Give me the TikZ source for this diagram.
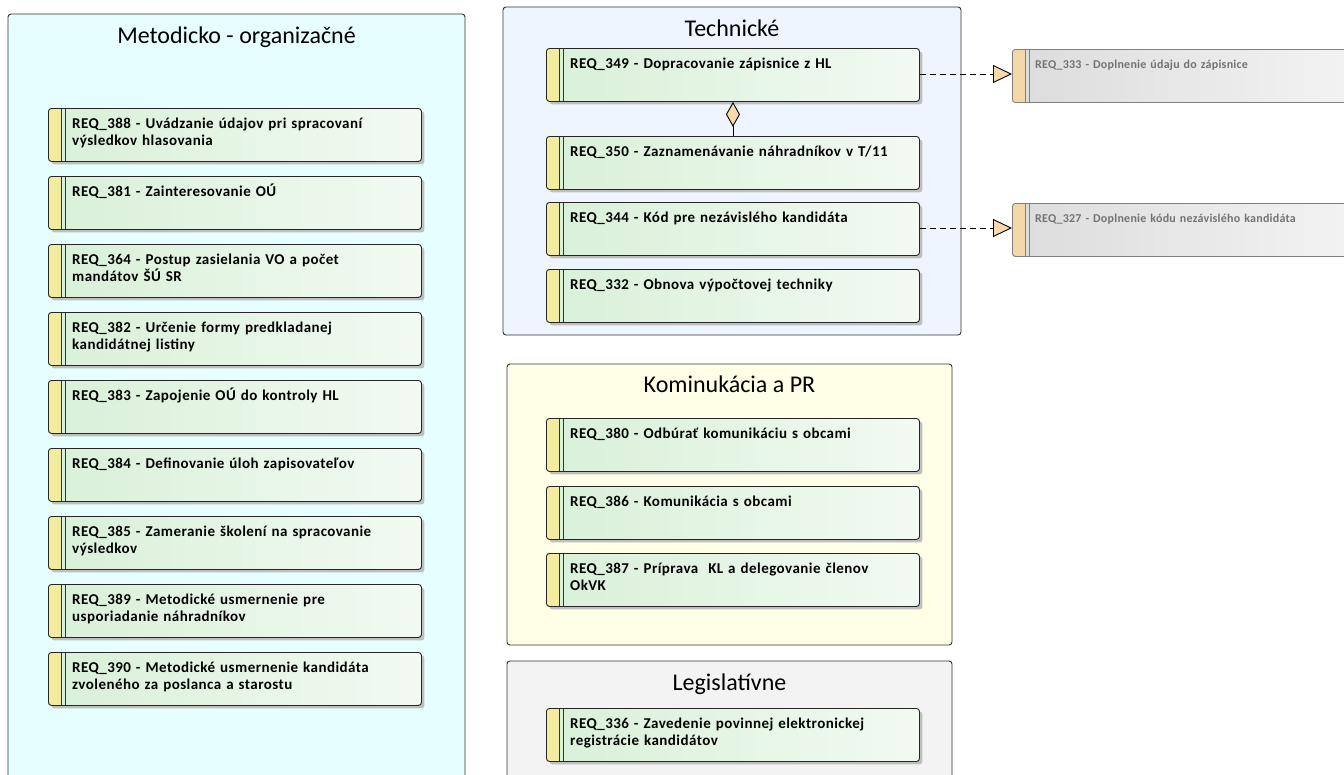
\documentclass[tikz,border=0pt]{standalone}
\usepackage{fontspec}
\setmainfont{Carlito}
\newfontfamily\reqfont[LetterSpace=3]{Carlito}
\newfontfamily\extfont[LetterSpace=2]{Carlito}
\usetikzlibrary{arrows.meta,shadows}
\definecolor{stripeY}{HTML}{F2EC9E}
\definecolor{stripeT}{HTML}{F5D8AA}
\definecolor{reqL}{HTML}{D8F0D8}
\definecolor{reqR}{HTML}{F2FAF2}
\definecolor{extL}{HTML}{DCDCDC}
\definecolor{extR}{HTML}{F4F4F4}
\definecolor{pkgCyan}{HTML}{E6FEFF}
\definecolor{pkgBlue}{HTML}{EEF5FF}
\definecolor{pkgYel}{HTML}{FFFFE8}
\definecolor{pkgGray}{HTML}{F3F3F3}
\definecolor{tanc}{HTML}{F8D9AC}
\tikzset{
  pkg/.style={draw=black!80, rounded corners=3pt, line width=0.9pt},
  pkgtitle/.style={font=\fontsize{24}{28}\selectfont, anchor=base, inner sep=0pt},
  reqbox/.style={draw=black!85, rounded corners=3pt, line width=0.9pt,
    left color=reqL, right color=reqR, anchor=north west, inner sep=0pt,
    minimum height=53pt, minimum width=373pt,
    drop shadow={shadow xshift=3pt, shadow yshift=-3pt, fill=black!25, opacity=1},
    path picture={
      \fill[stripeY] (path picture bounding box.north west) rectangle ([xshift=13pt]path picture bounding box.south west);
      \draw[black!80, line width=0.7pt] ([xshift=13pt]path picture bounding box.north west) -- ([xshift=13pt]path picture bounding box.south west);
      \draw[black!80, line width=0.7pt] ([xshift=17pt]path picture bounding box.north west) -- ([xshift=17pt]path picture bounding box.south west);
    }},
  extbox/.style={draw=black!50, rounded corners=3pt, line width=0.9pt,
    left color=extL, right color=extR, anchor=north west, inner sep=0pt,
    minimum height=53pt, minimum width=360pt,
    path picture={
      \fill[stripeT] (path picture bounding box.north west) rectangle ([xshift=13pt]path picture bounding box.south west);
      \draw[black!50, line width=0.7pt] ([xshift=13pt]path picture bounding box.north west) -- ([xshift=13pt]path picture bounding box.south west);
      \draw[black!50, line width=0.7pt] ([xshift=17pt]path picture bounding box.north west) -- ([xshift=17pt]path picture bounding box.south west);
    }},
  reqtext/.style={font=\reqfont\fontsize{15}{17}\selectfont\bfseries, anchor=base west, inner sep=0pt, text width=345pt, align=left},
  exttext/.style={font=\extfont\fontsize{12}{14}\selectfont\bfseries, text=black!55, anchor=base west, inner sep=0pt, text width=320pt, align=left},
  realize/.style={dashed, dash pattern=on 6pt off 4pt, line width=0.9pt, -{Triangle[length=19pt, width=18pt, fill=tanc, line width=0.9pt, sep=0pt]}},
  aggr/.style={line width=0.9pt, -{Diamond[length=25pt, width=14pt, fill=tanc, line width=0.9pt]}}
}
\newcommand{\reqnode}[5]{%
  \node[reqbox] (#1) at (#2,#3) {};
  \node[reqtext] (#1t) at ([xshift=24pt,yshift=-20pt]#1.north west) {#5};}
\begin{document}
\begin{tikzpicture}[x=1pt,y=-1pt]
\useasboundingbox (0,0) rectangle (1344,774);
\clip (0,0) rectangle (1344,774);
\fill[white] (0,0) rectangle (1344,774);
% packages
\draw[pkg, fill=pkgCyan] (8,14) rectangle (465,800);
\node[pkgtitle] (tMet) at (236.5,43) {Metodicko - organizačné};
\draw[pkg, fill=pkgBlue] (503,7) rectangle (961,335);
\node[pkgtitle] (tTech) at (732,36) {Technické};
\draw[pkg, fill=pkgYel] (507,364) rectangle (952,645);
\node[pkgtitle] (tKom) at (729.5,392) {Kominukácia a PR};
\draw[pkg, fill=pkgGray] (507,661) rectangle (952,800);
\node[pkgtitle] (tLeg) at (729.5,690) {Legislatívne};
% left column
\reqnode{r388}{48}{108}{}{REQ\_388 - Uvádzanie údajov pri spracovaní\\výsledkov hlasovania}
\reqnode{r381}{48}{176}{}{REQ\_381 - Zainteresovanie OÚ}
\reqnode{r364}{48}{244}{}{REQ\_364 - Postup zasielania VO a počet\\mandátov ŠÚ SR}
\reqnode{r382}{48}{312}{}{REQ\_382 - Určenie formy predkladanej\\kandidátnej listiny}
\reqnode{r383}{48}{380}{}{REQ\_383 - Zapojenie OÚ do kontroly HL}
\reqnode{r384}{48}{448}{}{REQ\_384 - Definovanie úloh zapisovateľov}
\reqnode{r385}{48}{516}{}{REQ\_385 - Zameranie školení na spracovanie\\výsledkov}
\reqnode{r389}{48}{584}{}{REQ\_389 - Metodické usmernenie pre\\usporiadanie náhradníkov}
\reqnode{r390}{48}{652}{}{REQ\_390 - Metodické usmernenie kandidáta\\zvoleného za poslanca a starostu}
% Technicke
\reqnode{r349}{546}{48}{}{REQ\_349 - Dopracovanie zápisnice z HL}
\reqnode{r350}{546}{136}{}{REQ\_350 - Zaznamenávanie náhradníkov v T/11}
\reqnode{r344}{546}{202}{}{REQ\_344 - Kód pre nezávislého kandidáta}
\reqnode{r332}{546}{269}{}{REQ\_332 - Obnova výpočtovej techniky}
% Kominukacia
\reqnode{r380}{546}{418}{}{REQ\_380 - Odbúrať komunikáciu s obcami}
\reqnode{r386}{546}{486}{}{REQ\_386 - Komunikácia s obcami}
\reqnode{r387}{546}{553}{}{REQ\_387 - Príprava\ \ KL a delegovanie členov\\OkVK}
% Legislativne
\reqnode{r336}{546}{708}{}{REQ\_336 - Zavedenie povinnej elektronickej\\registrácie kandidátov}
% external
\node[extbox] (r333) at (1012,49) {};
\node[exttext] (r333t) at ([xshift=23pt,yshift=-19pt]r333.north west) {REQ\_333 - Doplnenie údaju do zápisnice};
\node[extbox] (r327) at (1012,203) {};
\node[exttext] (r327t) at ([xshift=23pt,yshift=-19pt]r327.north west) {REQ\_327 - Doplnenie kódu nezávislého kandidáta};
% connectors
\draw[realize] (r349.east |- 0,74) -- (r333.west |- 0,74);
\draw[realize] (r344.east |- 0,228) -- (r327.west |- 0,228);
\draw[aggr] (r350.north) -- (r349.south);
\end{tikzpicture}
\end{document}
